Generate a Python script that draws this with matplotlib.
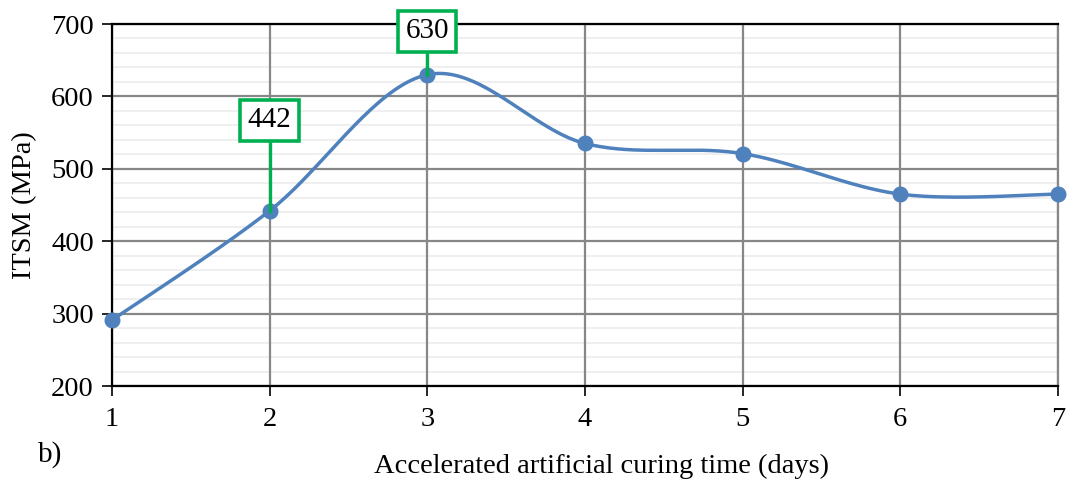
import matplotlib.pyplot as plt
import numpy as np
from matplotlib.ticker import MultipleLocator

days = [1, 2, 3, 4, 5, 6, 7]
itsm = [291, 442, 630, 535, 521, 465, 465]
label_days = [2, 3]
label_values = [442, 630]
label_centers = [567, 690]  # where the label boxes sit (data units)

plt.rcParams['font.family'] = ['Liberation Serif', 'DejaVu Serif']


def smooth(x, y, n=40):
    # Excel-like smoothed line: Catmull-Rom bezier segments
    x = np.asarray(x, float)
    y = np.asarray(y, float)
    px = np.concatenate([[x[0]], x, [x[-1]]])
    py = np.concatenate([[y[0]], y, [y[-1]]])
    xs, ys = [], []
    t = np.linspace(0, 1, n)
    for i in range(1, len(px) - 2):
        p0 = np.array([px[i], py[i]])
        p3 = np.array([px[i + 1], py[i + 1]])
        p1 = p0 + (np.array([px[i + 1], py[i + 1]]) - np.array([px[i - 1], py[i - 1]])) / 6
        p2 = p3 - (np.array([px[i + 2], py[i + 2]]) - np.array([px[i], py[i]])) / 6
        b = ((1 - t) ** 3)[:, None] * p0 + (3 * (1 - t) ** 2 * t)[:, None] * p1 \
            + (3 * (1 - t) * t ** 2)[:, None] * p2 + (t ** 3)[:, None] * p3
        xs.extend(b[:, 0])
        ys.extend(b[:, 1])
    return xs, ys


fig = plt.figure(figsize=(10.67, 4.86), dpi=100)
ax = fig.add_axes([112 / 1067, 1 - 386 / 486, (1058 - 112) / 1067, (386 - 24) / 486])

ax.set_xlim(1, 7)
ax.set_ylim(200, 700)
ax.yaxis.set_major_locator(MultipleLocator(100))
ax.yaxis.set_minor_locator(MultipleLocator(20))
ax.xaxis.set_major_locator(MultipleLocator(1))
ax.set_axisbelow(True)
ax.grid(which='major', color='#878787', lw=1.6, ls='-')
ax.grid(which='minor', axis='y', color='#ececec', lw=1.2, ls='-')
# vertical grid lines above the light minor ones
ax.yaxis.set_zorder(0.5)
ax.xaxis.set_zorder(0.6)
ax.tick_params(which='minor', length=0)
ax.tick_params(which='major', length=7, width=1.2, labelsize=20.5, color='black', pad=6)
ax.tick_params(axis='x', pad=8)
for s in ['left', 'bottom', 'top']:
    ax.spines[s].set_color('black')
    ax.spines[s].set_linewidth(1.6)
ax.spines['right'].set_color('#878787')
ax.spines['right'].set_linewidth(1.6)

sx, sy = smooth(days, itsm)
ax.plot(sx, sy, color='#4f81bd', lw=2.5, zorder=3, clip_on=False, solid_capstyle='round')
ax.plot(days, itsm, 'o', color='#4f81bd', ms=10.5, zorder=4, clip_on=False)

for d, v, c in zip(label_days, label_values, label_centers):
    ax.plot([d, d], [v, c], color='#00b050', lw=2.4, zorder=5, clip_on=False)
    ax.text(d, c, str(v), ha='center', va='center', fontsize=21, zorder=6, clip_on=False,
            bbox=dict(boxstyle='square,pad=0.25', fc='white', ec='#00b050', lw=2.6))

ax.set_ylabel('ITSM (MPa)', fontsize=20.5)
ax.yaxis.set_label_coords(-0.079, 0.5)
fig.text(601 / 1067, 1 - 466 / 486, 'Accelerated artificial curing time (days)',
         ha='center', va='center', fontsize=20.5)
fig.text(50 / 1067, 1 - 455 / 486, 'b)', ha='center', va='center', fontsize=21)

fig.savefig('out.png', dpi=100)
